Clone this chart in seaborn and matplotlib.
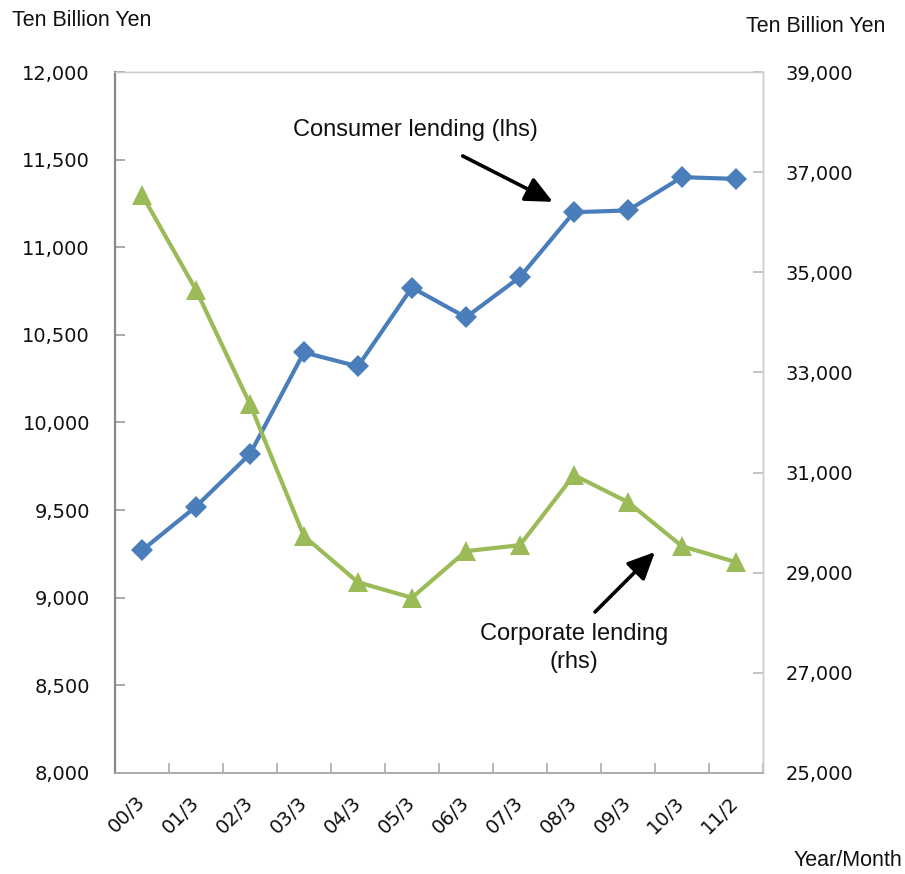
import matplotlib
matplotlib.use("Agg")
import matplotlib.pyplot as plt
import matplotlib.ticker as mticker
import numpy as np
import pandas as pd
import seaborn as sns

# Lending balances, ten billion yen
periods = ["00/3", "01/3", "02/3", "03/3", "04/3", "05/3",
           "06/3", "07/3", "08/3", "09/3", "10/3", "11/2"]
consumer_lending = [9270, 9520, 9820, 10400, 10320, 10770,
                    10600, 10830, 11200, 11210, 11400, 11390]
corporate_lending = [36550, 34650, 32370, 29730, 28810, 28500,
                     29430, 29550, 30950, 30410, 29530, 29210]

left_ticks = list(range(8000, 12001, 500))
right_ticks = list(range(25000, 39001, 2000))

sns.set_theme(style="white")
plt.rcParams["font.family"] = ["DejaVu Sans"]

df = pd.DataFrame({
    "pos": np.arange(len(periods)),
    "period": periods,
    "consumer": consumer_lending,
    "corporate": corporate_lending,
})

fig = plt.figure(figsize=(9.05, 8.74), dpi=100)
ax = fig.add_axes([0.127, 0.1156, 0.716, 0.802])
ax2 = ax.twinx()

blue = "#4a7ebb"
green = "#9bbb59"

sns.lineplot(data=df, x="pos", y="consumer", ax=ax, color=blue, lw=3.0,
             marker="D", markersize=11.5, markeredgewidth=0, sort=False, zorder=3)
sns.lineplot(data=df, x="pos", y="corporate", ax=ax2, color=green, lw=3.0,
             marker="^", markersize=15, markeredgewidth=0, sort=False, zorder=3)

n = len(periods)
ax.set_xlim(-0.5, n - 0.5)
ax.set_ylim(left_ticks[0], left_ticks[-1])
ax2.set_ylim(right_ticks[0], right_ticks[-1])

ax.set_xlabel("")
ax.set_ylabel("")
ax2.set_ylabel("")

ax.set_yticks(left_ticks)
ax2.set_yticks(right_ticks)
fmt = mticker.FuncFormatter(lambda v, p: f"{int(v):,}")
ax.yaxis.set_major_formatter(fmt)
ax2.yaxis.set_major_formatter(fmt)

# category labels centred, tick marks on category boundaries
ax.set_xticks(np.arange(n))
ax.set_xticklabels(periods)
ax.set_xticks(np.arange(n + 1) - 0.5, minor=True)
ax.tick_params(axis="x", which="major", length=0, pad=19, labelsize=14,
               labelcolor="#111111")
ax.tick_params(axis="x", which="minor", direction="in", length=7, width=1.2,
               color="#aaaaaa", bottom=True)
for lbl in ax.get_xticklabels():
    lbl.set_rotation(45)
    lbl.set_ha("right")
    lbl.set_va("center")
    lbl.set_rotation_mode("anchor")

ax.tick_params(axis="y", direction="in", length=7, width=1.2, color="#999999",
               pad=18, labelsize=14, labelcolor="#111111", left=True)
ax2.tick_params(axis="y", direction="in", length=7, width=1.2, color="#bbbbbb",
                pad=16, labelsize=14, labelcolor="#111111", right=True)

for a in (ax, ax2):
    for side, sp in a.spines.items():
        sp.set_visible(True)
    a.spines["left"].set_color("#888888")
    a.spines["left"].set_linewidth(1.5)
    a.spines["bottom"].set_color("#aaaaaa")
    a.spines["bottom"].set_linewidth(1.2)
    a.spines["top"].set_color("#d0d0d0")
    a.spines["top"].set_linewidth(1.0)
    a.spines["right"].set_color("#cccccc")
    a.spines["right"].set_linewidth(1.0)
ax2.patch.set_visible(False)

label_font = ["Liberation Sans", "DejaVu Sans"]
fig.text(12 / 905, 1 - 20 / 874, "Ten Billion Yen", fontsize=15.5,
         family=label_font, va="center", ha="left", color="#111111")
fig.text(885 / 905, 1 - 27 / 874, "Ten Billion Yen", fontsize=15.5,
         family=label_font, va="center", ha="right", color="#111111")
fig.text(902 / 905, 1 - 860 / 874, "Year/Month", fontsize=15.5,
         family=label_font, va="center", ha="right", color="#111111")

# series annotations with arrows
arrow = dict(arrowstyle="-|>,head_length=0.75,head_width=0.35", color="black",
             lw=2.6, mutation_scale=22, shrinkA=0, shrinkB=0)
fig.text(293 / 905, 1 - 130 / 874, "Consumer lending (lhs)", fontsize=17,
         family=label_font, ha="left", va="center", color="#111111")
ax.annotate("", xy=(7.61, 11259), xytext=(5.94, 11521), arrowprops=arrow,
            annotation_clip=False)
ax2.annotate("", xy=(9.5, 29413), xytext=(8.39, 28215), arrowprops=arrow,
             annotation_clip=False)
fig.text(574 / 905, 1 - 634 / 874, "Corporate lending", fontsize=17,
         family=label_font, ha="center", va="center", color="#111111")
fig.text(574 / 905, 1 - 662 / 874, "(rhs)", fontsize=17,
         family=label_font, ha="center", va="center", color="#111111")

fig.savefig("out.png", dpi=100, facecolor="white")
